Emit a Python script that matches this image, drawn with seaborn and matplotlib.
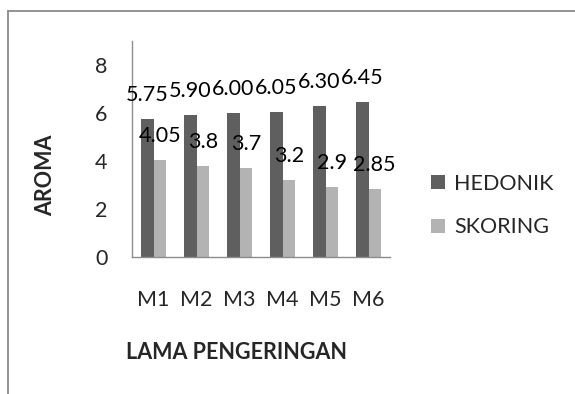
import matplotlib
matplotlib.use("Agg")
import matplotlib.pyplot as plt
from matplotlib.lines import Line2D
import seaborn as sns
import pandas as pd

# Drying-time treatments and aroma scores
categories = ["M1", "M2", "M3", "M4", "M5", "M6"]
hedonik = [5.75, 5.90, 6.00, 6.05, 6.30, 6.45]
skoring = [4.05, 3.8, 3.7, 3.2, 2.9, 2.85]
series_names = ["HEDONIK", "SKORING"]
y_ticks = [0, 2, 4, 6, 8]

df = pd.DataFrame({
    "cat": categories * 2,
    "series": [series_names[0]] * len(categories) + [series_names[1]] * len(categories),
    "val": hedonik + skoring,
})

sns.set_style("white")
plt.rcParams["font.family"] = ["Lato", "DejaVu Sans"]
FS = 15.5
AXIS_GRAY = "#8c8c8c"

W, H = 575, 394
fig = plt.figure(figsize=(W / 100, H / 100), dpi=100)
ax = fig.add_axes([132 / W, 1 - 257 / H, (390 - 132) / W, (257 - 41) / H])

sns.barplot(data=df, x="cat", y="val", hue="series", hue_order=series_names,
            order=categories, palette=["#5f5f5f", "#b3b3b3"], width=0.58,
            saturation=1, linewidth=0, ax=ax)

ax.set_xlim(-0.5, len(categories) - 0.5)
ax.set_ylim(0, 9)
ax.set_yticks(y_ticks)
ax.set_yticklabels([str(t) for t in y_ticks], fontsize=FS)
ax.set_xticks(range(len(categories)))
ax.set_xticklabels(categories, fontsize=FS)
ax.set_xticks([i - 0.5 for i in range(len(categories) + 1)], minor=True)
ax.tick_params(axis="x", which="major", length=0, pad=24)
ax.tick_params(axis="x", which="minor", length=6, width=1, color=AXIS_GRAY, direction="out")
ax.tick_params(axis="y", length=6.5, width=1, color=AXIS_GRAY, direction="out", pad=11)
ax.set_xlabel("")
ax.set_ylabel("")
for side in ("top", "right"):
    ax.spines[side].set_visible(False)
for side in ("left", "bottom"):
    ax.spines[side].set_color(AXIS_GRAY)
    ax.spines[side].set_linewidth(1)
ax.grid(False)

# Value labels above each bar
fmt = [lambda v: f"{v:.2f}", lambda v: f"{v:g}"]
for cont, vals, f in zip(ax.containers, [hedonik, skoring], fmt):
    for bar, v in zip(cont, vals):
        ax.annotate(f(v), (bar.get_x() + bar.get_width() / 2, v),
                    xytext=(0, 13), textcoords="offset points",
                    ha="center", va="baseline", fontsize=FS, color="black",
                    annotation_clip=False)

# Legend on the right
handles, labels = ax.get_legend_handles_labels()
if ax.get_legend() is not None:
    ax.get_legend().remove()
fig.legend(handles, labels, loc="center left",
           bbox_to_anchor=(431 / W, 1 - 205.5 / H), frameon=False,
           borderpad=0, borderaxespad=0, handlelength=0.63, handleheight=0.63,
           handletextpad=0.45, labelspacing=1.1, fontsize=FS)

# Axis titles
fig.text(46 / W, 1 - 175 / H, "AROMA", rotation=90, ha="center", va="center",
         fontsize=FS, fontweight="bold")
fig.text(236.5 / W, 1 - 352.5 / H, "LAMA PENGERINGAN", ha="center", va="center",
         fontsize=FS, fontweight="bold")

# Chart-area border
fig.add_artist(Line2D([7.5 / W, 1.0], [1 - 11 / H, 1 - 11 / H],
                      transform=fig.transFigure, color="#8a8a8a", lw=1.3))
fig.add_artist(Line2D([7.5 / W, 7.5 / W], [0, 1 - 11 / H],
                      transform=fig.transFigure, color="#8a8a8a", lw=1.3))

fig.savefig("out.png", dpi=100)
